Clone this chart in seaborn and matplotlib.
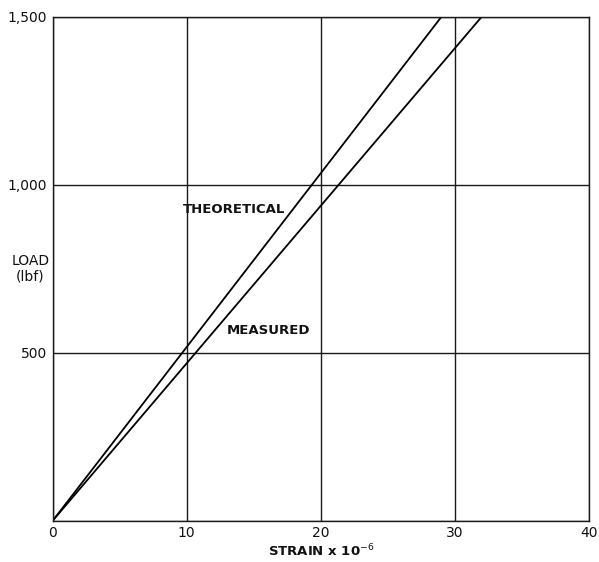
import matplotlib
matplotlib.use("Agg")
import matplotlib.pyplot as plt
import seaborn as sns
import pandas as pd

# Load versus strain for the two cases
theoretical_strain = [0, 29]
theoretical_load = [0, 1500]
measured_strain = [0, 32]
measured_load = [0, 1500]

x_ticks = [0, 10, 20, 30, 40]
x_tick_labels = ["0", "10", "20", "30", "40"]
y_ticks = [0, 500, 1000, 1500]
y_tick_labels = ["", "500", "1,000", "1,500"]

sns.set_theme(style="white")
plt.rcParams["font.family"] = ["DejaVu Sans"]

df = pd.concat([
    pd.DataFrame({"strain": theoretical_strain, "load": theoretical_load, "case": "THEORETICAL"}),
    pd.DataFrame({"strain": measured_strain, "load": measured_load, "case": "MEASURED"}),
])

fig = plt.figure(figsize=(5.99, 5.62), dpi=100)
ax = fig.add_axes([0.088, 0.0735, 0.895, 0.8965])

sns.lineplot(data=df, x="strain", y="load", units="case", estimator=None,
             color="black", linewidth=1.3, ax=ax, legend=False)

ax.set_xlim(0, 40)
ax.set_ylim(0, 1500)
ax.set_xticks(x_ticks)
ax.set_xticklabels(x_tick_labels)
ax.set_yticks(y_ticks)
ax.set_yticklabels(y_tick_labels)
ax.grid(True, color="#1a1a1a", linewidth=1.0)
ax.set_axisbelow(True)
for s in ax.spines.values():
    s.set_color("#1a1a1a")
    s.set_linewidth(1.0)
ax.tick_params(axis="both", length=0, pad=4, labelsize=10, colors="#111111")

ax.set_xlabel(r"STRAIN x 10$^{-6}$", fontsize=9.5, fontweight="bold", labelpad=2, color="#111111")
ax.set_ylabel("")
ax.text(-0.042, 0.5, "LOAD\n(lbf)", transform=ax.transAxes, ha="center", va="center",
        fontsize=10, color="#111111", linespacing=1.1)

ax.text(9.7, 925, "THEORETICAL", fontsize=9.5, fontweight="bold", va="center", ha="left", color="#111111")
ax.text(13.0, 565, "MEASURED", fontsize=9.5, fontweight="bold", va="center", ha="left", color="#111111")

fig.savefig("out.png", dpi=100)
